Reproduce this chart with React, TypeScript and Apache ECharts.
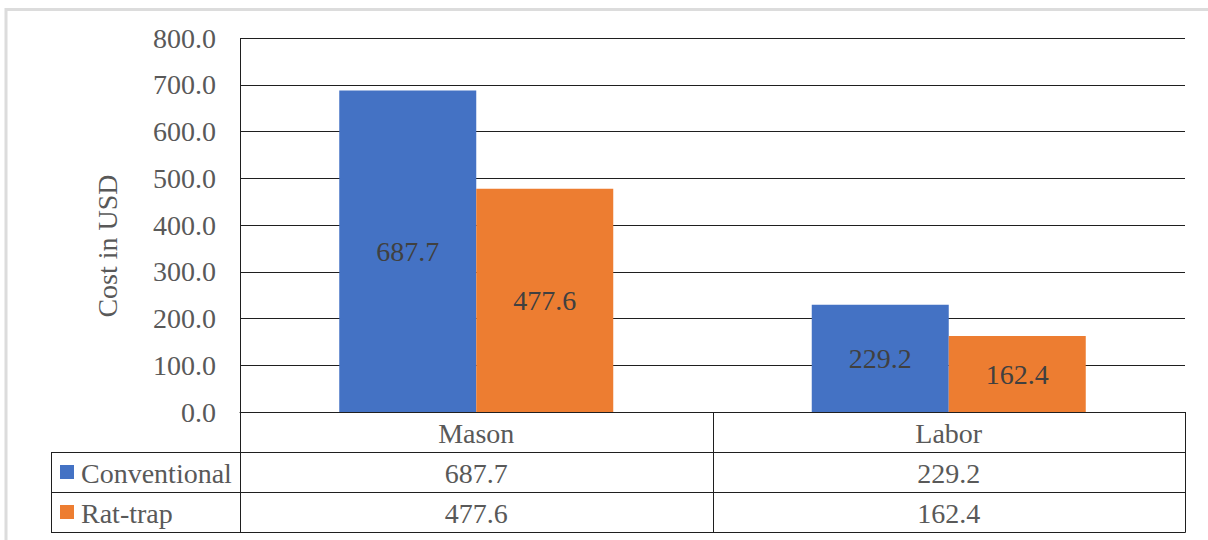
import React, { useEffect, useRef } from "react";
import * as echarts from "echarts";

// Chart data
const categories = ["Mason", "Labor"];
const seriesNames = ["Conventional", "Rat-trap"];
const conventional = [687.7, 229.2];
const ratTrap = [477.6, 162.4];
const seriesColors = ["#4472C4", "#ED7D31"];
const yTicks = { min: 0, max: 800, step: 100 };
const yTitle = "Cost in USD";

// Layout
const W = 1208;
const H = 540;
const PLOT_L = 240;
const PLOT_R = 1185;
const PLOT_T = 38;
const PLOT_B = 412;
const ROW_H = 40;
const TABLE_L = 51;
const FONT = "Times New Roman";
const FS = 28;
const TEXT = "#595959";
const LINE = "#1f1f1f";

export default function App() {
  const ref = useRef<HTMLDivElement>(null);

  useEffect(() => {
    document.body.style.margin = "0";
    const chart = echarts.init(ref.current!, null, { renderer: "svg" });
    const values = [conventional, ratTrap];
    const catW = (PLOT_R - PLOT_L) / categories.length;
    const rowsY = [PLOT_B, PLOT_B + ROW_H, PLOT_B + 2 * ROW_H, PLOT_B + 3 * ROW_H];

    const g: any[] = [];
    const line = (x1: number, y1: number, x2: number, y2: number, color = LINE, w = 1) =>
      g.push({
        type: "line",
        shape: { x1, y1, x2, y2 },
        style: { stroke: color, lineWidth: w },
        silent: true,
      });
    const text = (t: string, x: number, y: number, align: string) =>
      g.push({
        type: "text",
        x,
        y,
        style: {
          text: t,
          fill: TEXT,
          fontFamily: FONT,
          fontSize: FS,
          fontWeight: "normal",
          textAlign: align,
          textVerticalAlign: "middle",
        },
        silent: true,
      });

    // outer frame (top and left edges)
    line(5, 9.5, W, 9.5, "#dcdcdc", 3);
    line(6, 8, 6, H, "#dcdcdc", 3);

    // data table grid
    line(PLOT_L + 0.5, PLOT_T, PLOT_L + 0.5, rowsY[3] + 0.5);
    for (let i = 1; i <= 3; i++) line(TABLE_L, rowsY[i] + 0.5, PLOT_R + 0.5, rowsY[i] + 0.5);
    line(TABLE_L + 0.5, rowsY[1], TABLE_L + 0.5, rowsY[3] + 0.5);
    for (let c = 1; c <= categories.length; c++) {
      const x = Math.round(PLOT_L + c * catW) + 0.5;
      line(x, rowsY[0], x, rowsY[3] + 0.5);
    }

    // table header and values
    categories.forEach((cat, c) => {
      const cx = PLOT_L + (c + 0.5) * catW;
      text(cat, cx, rowsY[0] + ROW_H / 2 + 1, "center");
      values.forEach((vals, s) => {
        text(vals[c].toFixed(1), cx, rowsY[s + 1] + ROW_H / 2 + 1, "center");
      });
    });

    // series keys in the table
    seriesNames.forEach((name, s) => {
      const cy = rowsY[s + 1] + ROW_H / 2;
      g.push({
        type: "rect",
        shape: { x: 60, y: cy - 7, width: 14, height: 14 },
        style: { fill: seriesColors[s] },
        silent: true,
      });
      text(name, 81, cy + 1, "left");
    });

    // y-axis title
    g.push({
      type: "text",
      x: 107,
      y: 246,
      rotation: Math.PI / 2,
      style: {
        text: yTitle,
        fill: TEXT,
        fontFamily: FONT,
        fontSize: FS,
        textAlign: "center",
        textVerticalAlign: "middle",
      },
      silent: true,
    });

    chart.setOption({
      animation: false,
      backgroundColor: "#ffffff",
      textStyle: { fontFamily: FONT },
      grid: {
        left: PLOT_L,
        right: W - PLOT_R,
        top: PLOT_T,
        bottom: H - PLOT_B,
      },
      xAxis: {
        type: "category",
        data: categories,
        axisLine: { show: true, lineStyle: { color: LINE, width: 1 } },
        axisTick: { show: false },
        axisLabel: { show: false },
      },
      yAxis: {
        type: "value",
        min: yTicks.min,
        max: yTicks.max,
        interval: yTicks.step,
        axisLine: { show: false },
        axisTick: { show: false },
        splitLine: { show: true, lineStyle: { color: LINE, width: 1 } },
        axisLabel: {
          formatter: (v: number) => v.toFixed(1),
          color: TEXT,
          fontFamily: FONT,
          fontSize: FS,
          margin: 24,
        },
      },
      series: seriesNames.map((name, s) => ({
        name,
        type: "bar",
        data: values[s],
        barWidth: 137,
        barGap: "0%",
        itemStyle: { color: seriesColors[s] },
        label: {
          show: true,
          position: "inside",
          formatter: (p: any) => Number(p.value).toFixed(1),
          color: "#404040",
          fontFamily: FONT,
          fontSize: FS,
        },
      })),
      graphic: g,
    });

    return () => chart.dispose();
  }, []);

  return <div ref={ref} style={{ width: W, height: H }} />;
}
